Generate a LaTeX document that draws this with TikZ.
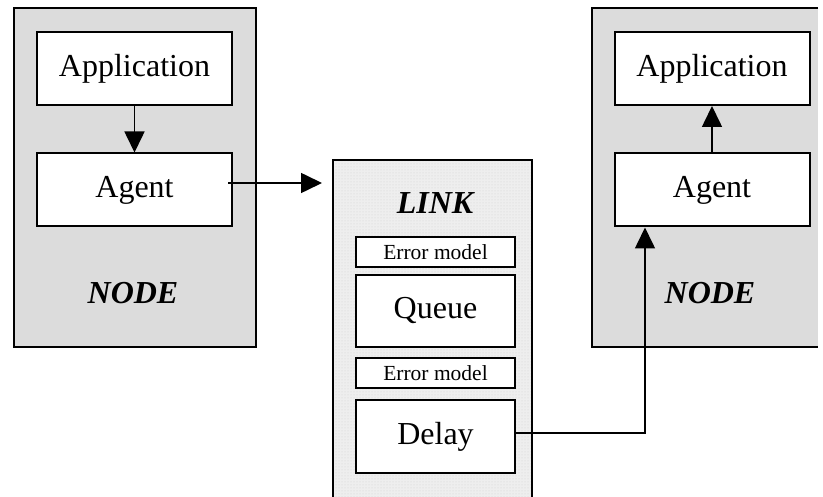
\documentclass[tikz,border=0pt]{standalone}
\usepackage{fontspec}
\setmainfont{Liberation Serif}
\usetikzlibrary{arrows.meta,patterns}
\definecolor{nodegray}{HTML}{DCDCDC}
\definecolor{linkgray}{HTML}{EEEEEE}
\begin{document}
\begin{tikzpicture}[x=1pt,y=-1pt,
  big/.style={font=\fontsize{32}{36}\selectfont},
  small/.style={font=\fontsize{21.5}{24}\selectfont},
  title/.style={font=\fontsize{32}{36}\selectfont\bfseries\itshape},
  box/.style={draw=black,line width=2pt,fill=white,inner sep=0pt,
    minimum width=195pt,minimum height=73pt},
  lbox/.style={draw=black,line width=2pt,fill=white,inner sep=0pt,
    minimum width=159pt},
  wire/.style={line width=1.6pt,draw=black},
  flow/.style={wire,-{Triangle[length=21pt,width=20pt]}}]
\useasboundingbox (0,0) rectangle (823,497);
\clip (0,0) rectangle (823,497);

% left host
\node[draw=black,line width=2pt,fill=nodegray,inner sep=0pt,
  minimum width=242pt,minimum height=339pt] (lnode) at (135,177.5) {};
\node[box,big] (lapp) at (134.5,68.5) {Application};
\node[box,big] (lagent) at (134.5,190) {Agent};
\node[title] (ltitle) at (133,293) {NODE};

% link
\path[fill=linkgray] (333,160) rectangle (532,510);
\path[pattern=dots,pattern color=black!18] (333,160) rectangle (532,510);
\node[draw=black,line width=2pt,inner sep=0pt,
  minimum width=199pt,minimum height=350pt] (link) at (432.5,335) {};
\node[title] (ltext) at (435,203) {LINK};
\node[lbox,small,minimum height=30pt] (err1) at (435.5,252) {Error model};
\node[lbox,big,minimum height=72pt] (queue) at (435.5,311) {Queue};
\node[lbox,small,minimum height=30pt] (err2) at (435.5,373) {Error model};
\node[lbox,big,minimum height=73pt] (delay) at (435.5,436.5) {Delay};

% right host
\node[fill=nodegray,inner sep=0pt,
  minimum width=226pt,minimum height=339pt] (rnode) at (705,177.5) {};
\draw[line width=2pt] (rnode.north east) -- (rnode.north west)
  -- (rnode.south west) -- (rnode.south east);
\node[box,big] (rapp) at (712,68.5) {Application};
\node[box,big] (ragent) at (712,190) {Agent};
\node[title] (rtitle) at (710,293) {NODE};

% connectors
\draw[flow] (lapp.south) -- (lagent.north);
\draw[flow,shorten >=5pt] ([xshift=-5pt,yshift=7pt]lagent.east)
  -- ([xshift=-5pt,yshift=7pt]lagent.east -| link.west);
\draw[flow] (ragent.north) -- (rapp.south);
\draw[flow] ([yshift=3.5pt]delay.east) -| ([xshift=-67pt]ragent.south);
\end{tikzpicture}
\end{document}
